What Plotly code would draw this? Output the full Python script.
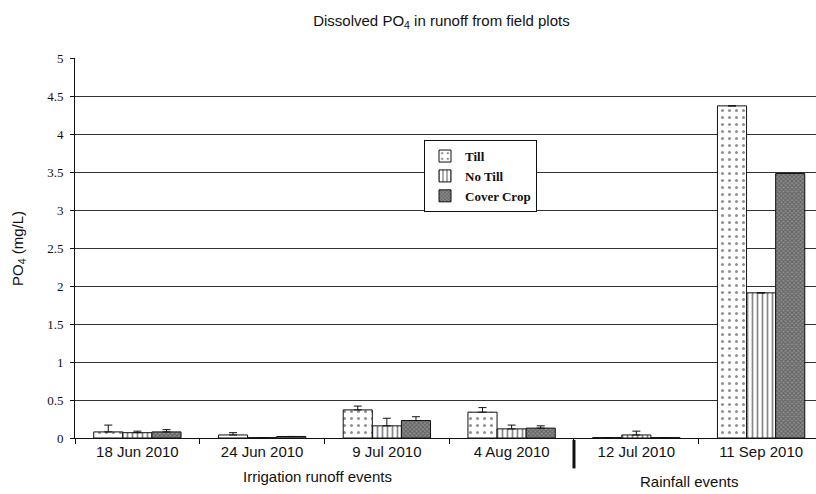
import plotly.graph_objects as go

# Sampling events (categories) and treatment means / upper error (mg/L)
events = ["18 Jun 2010", "24 Jun 2010", "9 Jul 2010", "4 Aug 2010", "12 Jul 2010", "11 Sep 2010"]

till = [0.08, 0.04, 0.37, 0.34, 0.005, 4.37]
till_err = [0.09, 0.03, 0.05, 0.06, None, None]

no_till = [0.07, 0.005, 0.16, 0.12, 0.04, 1.91]
no_till_err = [0.02, None, 0.10, 0.05, 0.05, None]

cover_crop = [0.08, 0.02, 0.23, 0.13, 0.005, 3.48]
cover_crop_err = [0.03, None, 0.05, 0.03, None, None]

y_ticks = [0, 0.5, 1, 1.5, 2, 2.5, 3, 3.5, 4, 4.5, 5]

series = [
    ("Till", till, till_err, dict(shape=".", bgcolor="white", fgcolor="#222", size=7, solidity=0.15)),
    ("No Till", no_till, no_till_err, dict(shape="|", bgcolor="white", fgcolor="#111", size=5, solidity=0.35)),
    ("Cover Crop", cover_crop, cover_crop_err, dict(shape="x", bgcolor="#8c8c8c", fgcolor="#333", size=3, solidity=0.5)),
]

fig = go.Figure()
for name, vals, err, pat in series:
    fig.add_trace(go.Bar(
        name="<b>" + name + "</b>",
        x=events,
        y=vals,
        marker=dict(color="white", line=dict(color="#111", width=1), pattern=pat),
        error_y=dict(type="data", symmetric=False, array=err,
                     arrayminus=[0 if e is not None else None for e in err],
                     color="#111", thickness=1, width=4),
    ))

serif = "Liberation Serif"
sans = "Liberation Sans"

fig.update_layout(
    width=816, height=494,
    margin=dict(l=75, r=0, t=58, b=56),
    paper_bgcolor="white", plot_bgcolor="white",
    barmode="group", bargap=0.30, bargroupgap=0.0,
    title=dict(text="Dissolved PO<sub>4</sub> in runoff from field plots",
               x=0.541, xanchor="center", y=0.958, yanchor="middle",
               font=dict(family=sans, size=15, color="#111")),
    legend=dict(x=0.471, y=0.784, xanchor="left", yanchor="top",
                bgcolor="white", bordercolor="#111", borderwidth=1,
                font=dict(family=serif, size=13, color="#111"),
                tracegroupgap=0, itemwidth=30),
    xaxis=dict(
        type="category", range=[-0.5, 5.44],
        showline=True, linecolor="#111", linewidth=1,
        ticks="outside", tickson="boundaries", ticklen=5, tickcolor="#111",
        tickfont=dict(family=sans, size=15, color="#111"),
        showgrid=False,
    ),
    yaxis=dict(
        range=[0, 5], tickvals=y_ticks,
        showline=True, linecolor="#111", linewidth=1,
        ticks="outside", ticklen=4, tickcolor="#111", ticklabelstandoff=4,
        tickfont=dict(family=serif, size=13, color="#111"),
        showgrid=True, gridcolor="#333", gridwidth=1,
        zeroline=False,
    ),
    showlegend=True,
)

# Y-axis title
fig.add_annotation(text="PO<sub>4</sub> (mg/L)", xref="paper", yref="paper",
                   x=-0.077, y=0.5, textangle=-90, showarrow=False,
                   xanchor="center", yanchor="middle",
                   font=dict(family=sans, size=15, color="#111"))

# Group labels beneath the categories
fig.add_annotation(text="Irrigation runoff events", xref="x", yref="paper",
                   x=1.44, y=-0.074, showarrow=False, yanchor="top",
                   font=dict(family=sans, size=15, color="#111"))
fig.add_annotation(text="Rainfall events", xref="x", yref="paper",
                   x=4.42, y=-0.086, showarrow=False, yanchor="top",
                   font=dict(family=sans, size=15, color="#111"))

# Separator between irrigation and rainfall events
fig.add_shape(type="line", xref="x", yref="paper", x0=3.5, x1=3.5, y0=-0.005, y1=-0.08,
              line=dict(color="#111", width=3))

fig.write_html("out.html")
